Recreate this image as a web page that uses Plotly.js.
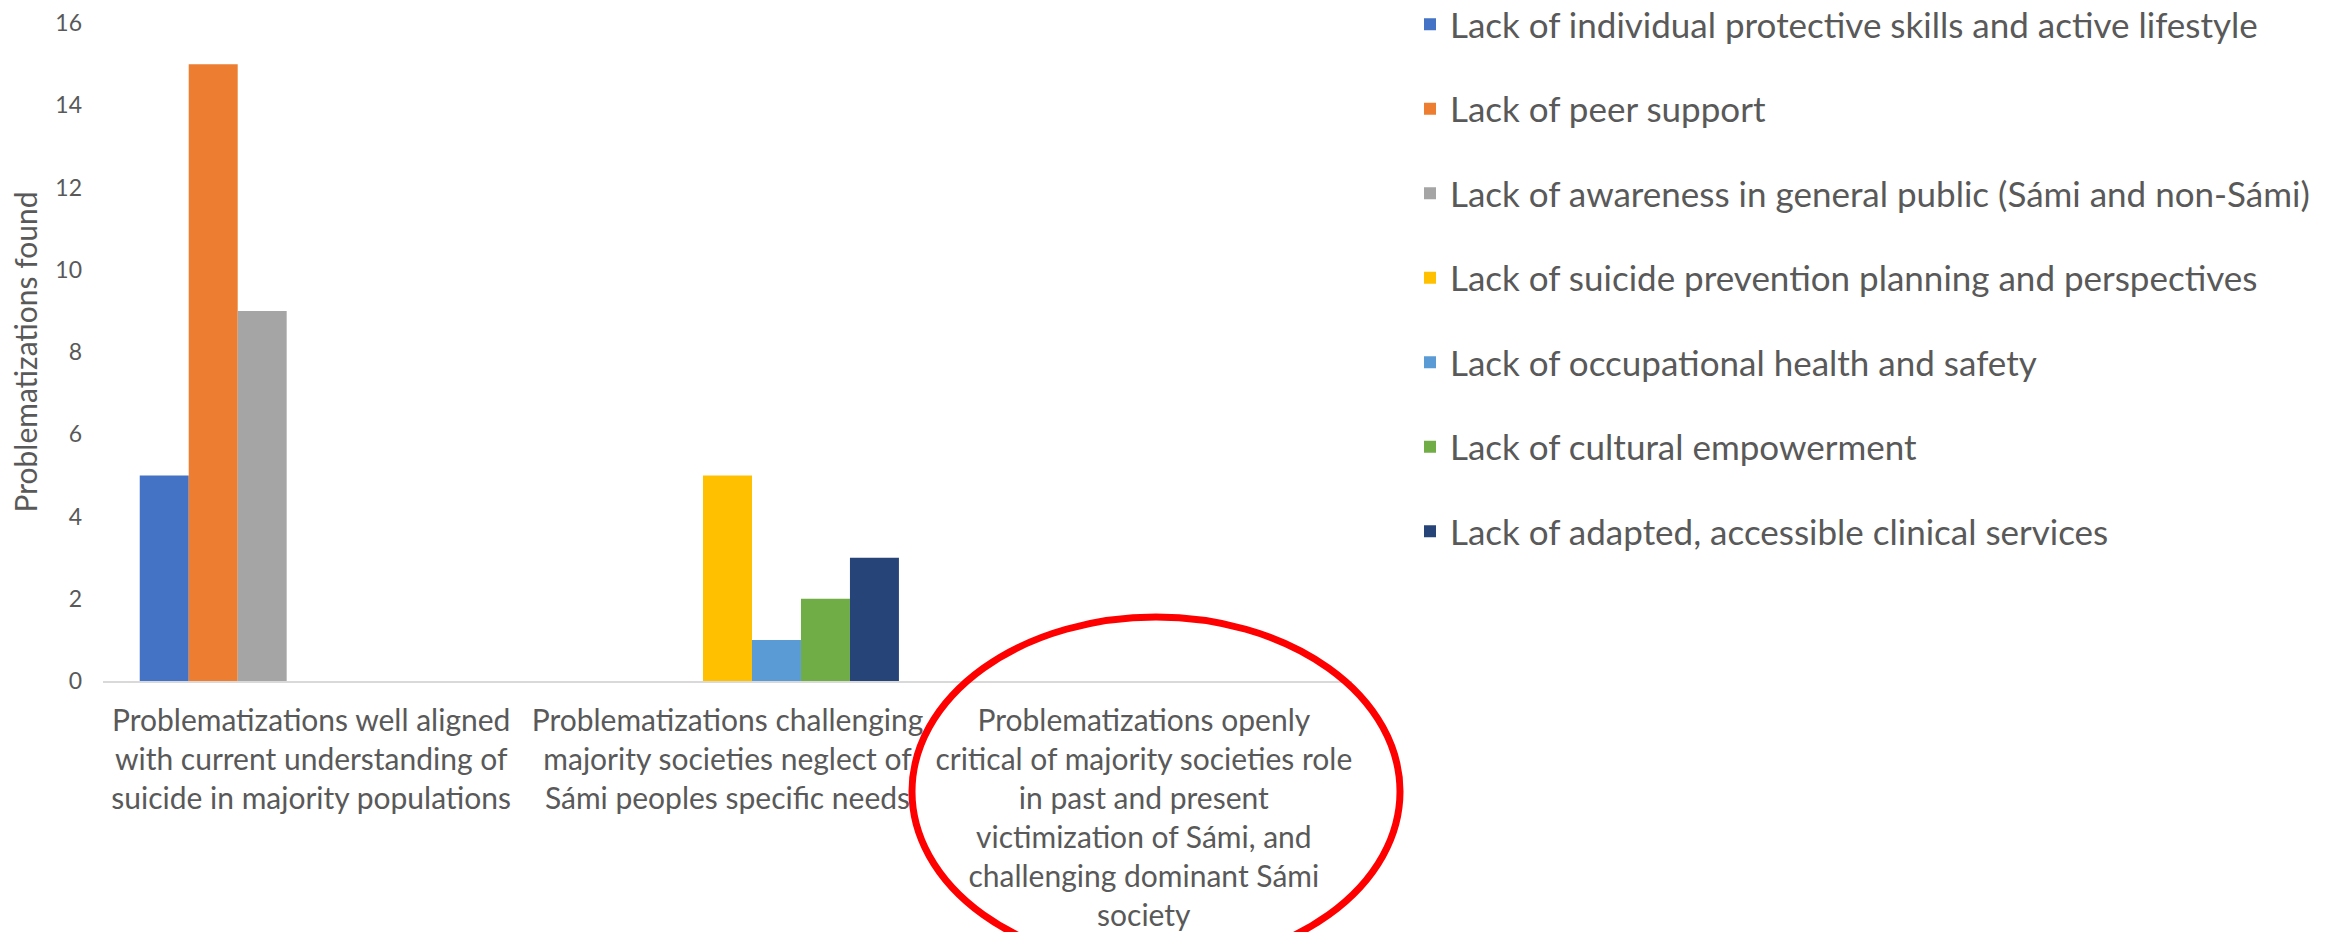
<!DOCTYPE html>
<html>
<head>
<meta charset="utf-8">
<script src="https://cdn.plot.ly/plotly-3.0.1.min.js"></script>
<style>html,body{margin:0;padding:0;background:#fff;}#chart{width:2333px;height:932px;}</style>
</head>
<body>
<div id="chart"></div>
<script>
var categories = [
  "Problematizations well aligned<br>with current understanding of<br>suicide in majority populations",
  "Problematizations challenging<br>majority societies neglect of<br>Sámi peoples specific needs",
  "Problematizations openly<br>critical of majority societies role<br>in past and present<br>victimization of Sámi, and<br>challenging dominant Sámi<br>society"
];
var seriesNames = [
  "Lack of individual protective skills and active lifestyle",
  "Lack of peer support",
  "Lack of awareness in general public (Sámi and non-Sámi)",
  "Lack of suicide prevention planning and perspectives",
  "Lack of occupational health and safety",
  "Lack of cultural empowerment",
  "Lack of adapted, accessible clinical services"
];
var individualSkills = [5, 0, 0];
var peerSupport = [15, 0, 0];
var publicAwareness = [9, 0, 0];
var preventionPlanning = [0, 5, 0];
var occupationalHealth = [0, 1, 0];
var culturalEmpowerment = [0, 2, 0];
var clinicalServices = [0, 3, 0];
var seriesValues = [individualSkills, peerSupport, publicAwareness, preventionPlanning, occupationalHealth, culturalEmpowerment, clinicalServices];
var colors = ["#4472C4", "#ED7D31", "#A5A5A5", "#FFC000", "#5B9BD5", "#70AD47", "#264478"];
var yTickValues = [0, 2, 4, 6, 8, 10, 12, 14, 16];

var FONT = "Lato, 'Open Sans', sans-serif";
var traces = seriesNames.map(function (name, i) {
  return {
    type: "bar",
    name: name,
    x: categories,
    y: seriesValues[i],
    legendgroup: "g" + i,
    marker: {color: colors[i]},
    hoverinfo: "skip"
  };
});

var W = 2333, H = 932;
var L = 103, R = 981, T = 23, B = 251;
var pw = W - L - R, ph = H - T - B;
function px2x(p) { return (p - L) / pw; }
function py2y(p) { return (H - B - p) / ph; }

var layout = {
  width: W, height: H,
  margin: {l: L, r: R, t: T, b: B, autoexpand: false},
  paper_bgcolor: "#ffffff",
  plot_bgcolor: "#ffffff",
  barmode: "group",
  bargap: 0.1765,
  bargroupgap: 0,
  showlegend: true,
  font: {family: FONT, color: "#595959"},
  xaxis: {
    type: "category",
    range: [-0.5, 2.5],
    showline: true, linecolor: "#d9d9d9", linewidth: 2,
    showgrid: false, zeroline: false, ticks: "",
    tickfont: {family: FONT, size: 30, color: "#595959"},
    ticklabelstandoff: 12,
    fixedrange: true
  },
  yaxis: {
    range: [0, 16],
    tickvals: yTickValues,
    showline: false, showgrid: false, zeroline: false, ticks: "",
    tickfont: {family: FONT, size: 23, color: "#595959"},
    ticklabelstandoff: 20,
    title: {text: "Problematizations found", font: {family: FONT, size: 30, color: "#595959"}, standoff: 8},
    fixedrange: true
  },
  legend: {
    x: px2x(1410), xanchor: "left",
    y: py2y(-5), yanchor: "top",
    font: {family: FONT, size: 35, color: "#595959"},
    tracegroupgap: 36,
    traceorder: "grouped",
    maxheight: 1,
    bgcolor: "rgba(0,0,0,0)",
    borderwidth: 0
  },
  shapes: [{
    type: "circle",
    xref: "paper", yref: "paper",
    x0: px2x(912), x1: px2x(1400),
    y0: py2y(617), y1: py2y(966),
    line: {color: "#ff0000", width: 7},
    fillcolor: "rgba(0,0,0,0)",
    layer: "above"
  }]
};

Plotly.newPlot("chart", traces, layout, {displayModeBar: false, staticPlot: true});
</script>
</body>
</html>
